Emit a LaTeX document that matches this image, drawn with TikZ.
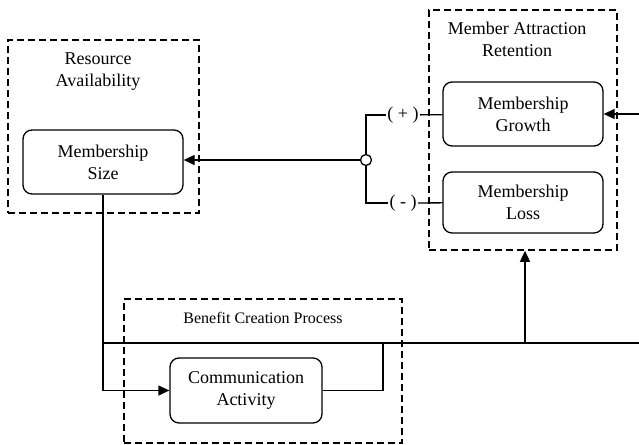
\documentclass[tikz,border=0pt]{standalone}
\usepackage{fontspec}
\setmainfont{Liberation Serif}
\usetikzlibrary{arrows.meta}

\begin{document}
\begin{tikzpicture}[x=1pt, y=-1pt, line width=1.3pt]
	\newcommand{\bw}{160}
	\newcommand{\bh}{64}
	\tikzstyle{group} = [draw, dash pattern=on 7pt off 4pt, line width=1.6pt, inner sep=0]
	\tikzstyle{block} = [draw, rounded corners=9pt, align=center, inner sep=0,
		minimum width=\bw, minimum height=\bh, font=\fontsize{18}{22}\selectfont]
	\tikzstyle{title} = [align=center, inner sep=0, font=\fontsize{18}{22}\selectfont]
	\tikzstyle{sign} = [inner sep=1pt, font=\fontsize{18}{22}\selectfont]
	\tikzstyle{junction} = [circle, draw, fill=white, inner sep=0, minimum size=11]
	\tikzstyle{arr} = [-{Triangle[length=11pt,width=10pt]}]
	\useasboundingbox (0,0) rectangle (639,444);
	% groups
	\node[group, minimum width=191, minimum height=173] (res) at (103.5,126.5) {};
	\node[group, minimum width=188, minimum height=240] (mar) at (523,130) {};
	\node[group, minimum width=278, minimum height=144] (bcp) at (263,371) {};
	\node[title] (resT) at (98,72) {Resource\\Availability};
	\node[title] (marT) at (517,39) {Member Attraction\\Retention};
	\node[title, font=\fontsize{16}{19}\selectfont] (bcpT) at (263,318) {Benefit Creation Process};
	% blocks
	\node[block] (size) at (103,162) {Membership\\Size};
	\node[block] (growth) at (523,114) {Membership\\Growth};
	\node[block, minimum height=61] (loss) at (523,202.5) {Membership\\Loss};
	\node[block, minimum width=152, minimum height=65] (comm) at (246,390.5) {Communication\\Activity};
	% junction
	\node[junction] (j) at (366,160) {};
	\node[sign] (plus) at (403,115) {( + )};
	\node[sign] (minus) at (403,203) {( - )};
	\coordinate (inR) at (639,114);
	\coordinate (busL) at (103,343);
	\coordinate (busR) at (639,343);
	\coordinate (busC) at (383,343);
	\coordinate (busM) at (525,343);
	\draw (j.north) |- (plus.west);
	\draw (j.south) |- (minus.west);
	\draw (plus) -- (growth);
	\draw (minus) -- (loss);
	\draw[arr] (j.west) -- (j -| size.east);
	\draw[arr] (inR) -- (growth.east);
	\draw[arr] (size.south) |- (comm.west);
	\draw (busL) -- (busR);
	\draw (comm.east) -| (busC);
	\draw[arr] (busM) -- (busM |- mar.south);
\end{tikzpicture}
\end{document}
